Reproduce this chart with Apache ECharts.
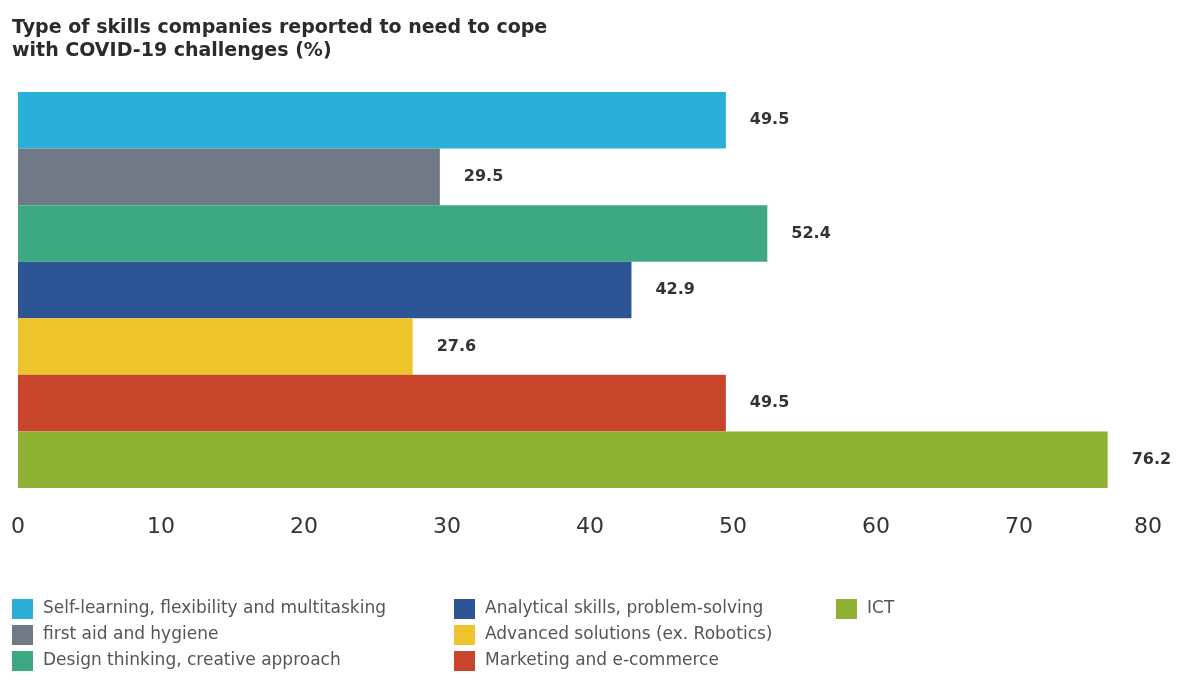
<!DOCTYPE html>
<html>
<head>
<meta charset="utf-8">
<script src="https://cdn.jsdelivr.net/npm/echarts@6/dist/echarts.min.js"></script>
<style>html,body{margin:0;padding:0;background:#fff}#c{width:1179px;height:684px}</style>
</head>
<body>
<div id="c"></div>
<script>
const categories = [
  'Self-learning, flexibility and multitasking',
  'first aid and hygiene',
  'Design thinking, creative approach',
  'Analytical skills, problem-solving',
  'Advanced solutions (ex. Robotics)',
  'Marketing and e-commerce',
  'ICT'
];
const values = [49.5, 29.5, 52.4, 42.9, 27.6, 49.5, 76.2];
const colors = ['#2AAFD9', '#6F7A86', '#3DA983', '#2D5596', '#EDC42B', '#C8452B', '#8EB033'];
const xTicks = [0, 10, 20, 30, 40, 50, 60, 70, 80];

const FONT = 'DejaVu Sans';
const chart = echarts.init(document.getElementById('c'));
const series = categories.map((name, i) => ({
  name: name,
  type: 'bar',
  barGap: '-100%',
  barCategoryGap: '0%',
  itemStyle: { color: colors[i] },
  label: {
    show: true, position: 'right', distance: 24,
    fontFamily: FONT, fontSize: 16, fontWeight: 'bold', color: '#333',
    formatter: p => p.value.toFixed(1)
  },
  data: categories.map((c, j) => j === i ? values[i] : null)
}));
const legendBase = {
  orient: 'vertical', icon: 'rect', itemWidth: 21, itemHeight: 20, itemGap: 6,
  top: 594,
  textStyle: { fontFamily: FONT, fontSize: 17, color: '#555', padding: [0, 0, 0, 5] }
};
chart.setOption({
  animation: false,
  title: {
    text: 'Type of skills companies reported to need to cope\nwith COVID-19 challenges (%)',
    left: 7, top: 12,
    textStyle: { fontFamily: FONT, fontSize: 19, fontWeight: 'bold', color: '#2b2b2b', lineHeight: 23 }
  },
  legend: [
    Object.assign({}, legendBase, { left: 7, data: categories.slice(0, 3) }),
    Object.assign({}, legendBase, { left: 449, data: categories.slice(3, 6) }),
    Object.assign({}, legendBase, { left: 831, data: categories.slice(6) })
  ],
  grid: { left: 18, right: 17, top: 92, bottom: 196, containLabel: false },
  xAxis: {
    type: 'value', min: xTicks[0], max: xTicks[xTicks.length - 1], interval: 10,
    axisLine: { show: false }, axisTick: { show: false }, splitLine: { show: false },
    axisLabel: {
      margin: 28, fontFamily: FONT, fontSize: 22, color: '#333',
      alignMaxLabel: 'right'
    }
  },
  yAxis: {
    type: 'category', data: categories, inverse: true, show: false
  },
  series: series
});
</script>
</body>
</html>
